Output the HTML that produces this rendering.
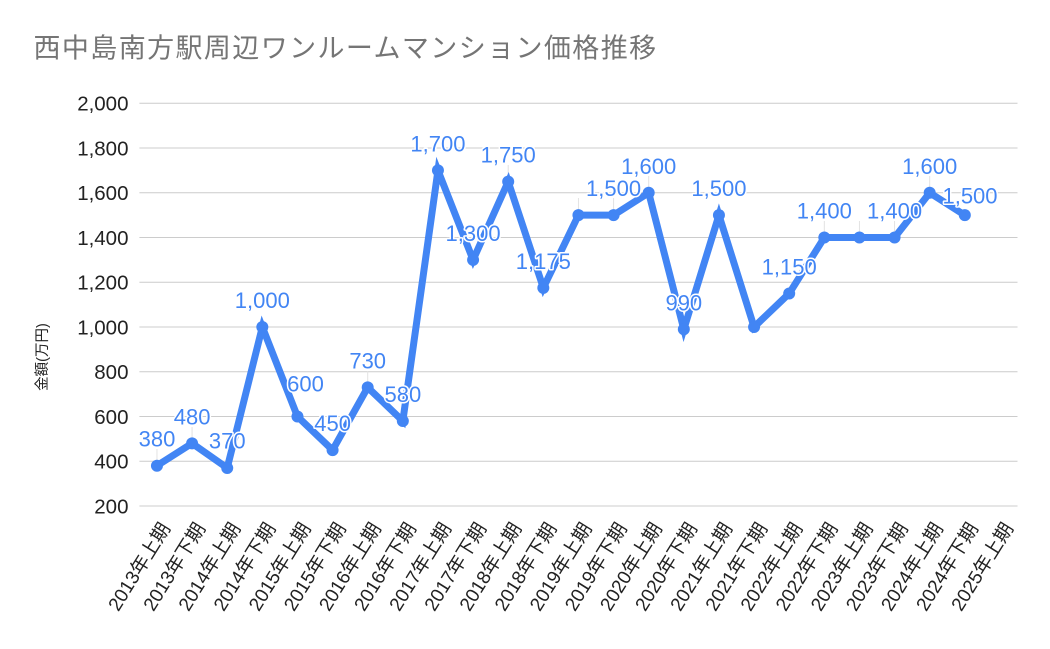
<!DOCTYPE html>
<html>
<head>
<meta charset="utf-8">
<style>
  html,body{margin:0;padding:0;background:#fff;}
  svg{display:block;}
</style>
</head>
<body>
<svg width="1050" height="649" viewBox="0 0 1050 649" xmlns="http://www.w3.org/2000/svg">
  <rect x="0" y="0" width="1050" height="649" fill="#ffffff"/>
  <!-- Title -->
  <text x="33.5" y="57.5" font-family="'Liberation Sans','Noto Sans CJK JP',sans-serif" font-size="27" letter-spacing="1.4" fill="#757575">西中島南方駅周辺ワンルームマンション価格推移</text>

  <!-- Gridlines -->
  <g stroke="#cccccc" stroke-width="1">
    <line x1="139.4" y1="103.3" x2="1017.5" y2="103.3"/>
    <line x1="139.4" y1="148.05" x2="1017.5" y2="148.05"/>
    <line x1="139.4" y1="192.79" x2="1017.5" y2="192.79"/>
    <line x1="139.4" y1="237.53" x2="1017.5" y2="237.53"/>
    <line x1="139.4" y1="282.28" x2="1017.5" y2="282.28"/>
    <line x1="139.4" y1="327.02" x2="1017.5" y2="327.02"/>
    <line x1="139.4" y1="371.77" x2="1017.5" y2="371.77"/>
    <line x1="139.4" y1="416.51" x2="1017.5" y2="416.51"/>
    <line x1="139.4" y1="461.26" x2="1017.5" y2="461.26"/>
    <line x1="139.4" y1="506" x2="1017.5" y2="506"/>
  </g>

  <!-- Y tick labels -->
  <g font-family="'Liberation Sans',sans-serif" font-size="20.5" fill="#222" text-anchor="end">
    <text x="128.5" y="110.6">2,000</text>
    <text x="128.5" y="155.3">1,800</text>
    <text x="128.5" y="200.1">1,600</text>
    <text x="128.5" y="244.8">1,400</text>
    <text x="128.5" y="289.6">1,200</text>
    <text x="128.5" y="334.3">1,000</text>
    <text x="128.5" y="379.1">800</text>
    <text x="128.5" y="423.8">600</text>
    <text x="128.5" y="468.6">400</text>
    <text x="128.5" y="513.3">200</text>
  </g>

  <!-- Y axis title -->
  <text transform="translate(47,357) rotate(-90)" text-anchor="middle" font-family="'Liberation Sans','Noto Sans CJK JP',sans-serif" font-size="14.5" fill="#222">金額(万円)</text>

  <!-- Leader lines -->
  <g stroke="#e2e2e2" stroke-width="1">
    <line x1="156.96" y1="449" x2="156.96" y2="460"/>
    <line x1="192.08" y1="427" x2="192.08" y2="438"/>
    <line x1="367.70" y1="371" x2="367.70" y2="382"/>
    <line x1="508.20" y1="165" x2="508.20" y2="176"/>
    <line x1="578.45" y1="198" x2="578.45" y2="210"/>
    <line x1="613.57" y1="198" x2="613.57" y2="210"/>
    <line x1="648.70" y1="176" x2="648.70" y2="187"/>
    <line x1="824.32" y1="221" x2="824.32" y2="232"/>
    <line x1="859.44" y1="221" x2="859.44" y2="232"/>
    <line x1="894.56" y1="221" x2="894.56" y2="232"/>
    <line x1="929.69" y1="176" x2="929.69" y2="187"/>
  </g>

  <!-- Series line -->
  <polyline fill="none" stroke="#4285F4" stroke-width="7" stroke-linejoin="miter" stroke-miterlimit="4"
    points="156.96,465.73 192.08,443.36 227.21,467.97 262.33,327.02 297.46,416.51 332.58,450.07 367.70,387.43 402.83,420.99 437.95,170.42 473.08,259.91 508.20,181.60 543.32,287.87 578.45,215.16 613.57,215.16 648.70,192.79 683.82,329.26 718.94,215.16 754.07,327.02 789.19,293.46 824.32,237.53 859.44,237.53 894.56,237.53 929.69,192.79 964.81,215.16"/>

  <!-- Points -->
  <g fill="#4285F4">
    <circle cx="156.96" cy="465.73" r="6"/>
    <circle cx="192.08" cy="443.36" r="6"/>
    <circle cx="227.21" cy="467.97" r="6"/>
    <circle cx="262.33" cy="327.02" r="6"/>
    <circle cx="297.46" cy="416.51" r="6"/>
    <circle cx="332.58" cy="450.07" r="6"/>
    <circle cx="367.70" cy="387.43" r="6"/>
    <circle cx="402.83" cy="420.99" r="6"/>
    <circle cx="437.95" cy="170.42" r="6"/>
    <circle cx="473.08" cy="259.91" r="6"/>
    <circle cx="508.20" cy="181.60" r="6"/>
    <circle cx="543.32" cy="287.87" r="6"/>
    <circle cx="578.45" cy="215.16" r="6"/>
    <circle cx="613.57" cy="215.16" r="6"/>
    <circle cx="648.70" cy="192.79" r="6"/>
    <circle cx="683.82" cy="329.26" r="6"/>
    <circle cx="718.94" cy="215.16" r="6"/>
    <circle cx="754.07" cy="327.02" r="6"/>
    <circle cx="789.19" cy="293.46" r="6"/>
    <circle cx="824.32" cy="237.53" r="6"/>
    <circle cx="859.44" cy="237.53" r="6"/>
    <circle cx="894.56" cy="237.53" r="6"/>
    <circle cx="929.69" cy="192.79" r="6"/>
    <circle cx="964.81" cy="215.16" r="6"/>
  </g>

  <!-- Data labels -->
  <g font-family="'Liberation Sans',sans-serif" font-size="22" fill="#4285F4" text-anchor="middle" stroke="#ffffff" stroke-width="3" paint-order="stroke" stroke-linejoin="round">
    <text x="156.96" y="446.7">380</text>
    <text x="192.08" y="424.4">480</text>
    <text x="227.21" y="448.5">370</text>
    <text x="262.33" y="308">1,000</text>
    <text x="305.5" y="391.7">600</text>
    <text x="332.58" y="431.1">450</text>
    <text x="367.70" y="368.4">730</text>
    <text x="402.83" y="402">580</text>
    <text x="437.95" y="151.4">1,700</text>
    <text x="473.08" y="240.9">1,300</text>
    <text x="508.20" y="162.6">1,750</text>
    <text x="543.32" y="268.9">1,175</text>
    <text x="613.57" y="196.2">1,500</text>
    <text x="648.70" y="173.8">1,600</text>
    <text x="683.82" y="310.3">990</text>
    <text x="718.94" y="196.2">1,500</text>
    <text x="789.19" y="274.5">1,150</text>
    <text x="824.32" y="218.5">1,400</text>
    <text x="894.56" y="218.5">1,400</text>
    <text x="929.69" y="173.8">1,600</text>
    <text x="970" y="203.3">1,500</text>
  </g>

  <!-- X labels -->
  <g font-family="'Liberation Sans','Noto Sans CJK JP',sans-serif" font-size="19" fill="#222" text-anchor="end">
    <text transform="translate(170.96,528) rotate(-58)">2013年上期</text>
    <text transform="translate(206.08,528) rotate(-58)">2013年下期</text>
    <text transform="translate(241.21,528) rotate(-58)">2014年上期</text>
    <text transform="translate(276.33,528) rotate(-58)">2014年下期</text>
    <text transform="translate(311.46,528) rotate(-58)">2015年上期</text>
    <text transform="translate(346.58,528) rotate(-58)">2015年下期</text>
    <text transform="translate(381.70,528) rotate(-58)">2016年上期</text>
    <text transform="translate(416.83,528) rotate(-58)">2016年下期</text>
    <text transform="translate(451.95,528) rotate(-58)">2017年上期</text>
    <text transform="translate(487.08,528) rotate(-58)">2017年下期</text>
    <text transform="translate(522.20,528) rotate(-58)">2018年上期</text>
    <text transform="translate(557.32,528) rotate(-58)">2018年下期</text>
    <text transform="translate(592.45,528) rotate(-58)">2019年上期</text>
    <text transform="translate(627.57,528) rotate(-58)">2019年下期</text>
    <text transform="translate(662.70,528) rotate(-58)">2020年上期</text>
    <text transform="translate(697.82,528) rotate(-58)">2020年下期</text>
    <text transform="translate(732.94,528) rotate(-58)">2021年上期</text>
    <text transform="translate(768.07,528) rotate(-58)">2021年下期</text>
    <text transform="translate(803.19,528) rotate(-58)">2022年上期</text>
    <text transform="translate(838.32,528) rotate(-58)">2022年下期</text>
    <text transform="translate(873.44,528) rotate(-58)">2023年上期</text>
    <text transform="translate(908.56,528) rotate(-58)">2023年下期</text>
    <text transform="translate(943.69,528) rotate(-58)">2024年上期</text>
    <text transform="translate(978.81,528) rotate(-58)">2024年下期</text>
    <text transform="translate(1013.94,528) rotate(-58)">2025年上期</text>
  </g>
</svg>
</body>
</html>
